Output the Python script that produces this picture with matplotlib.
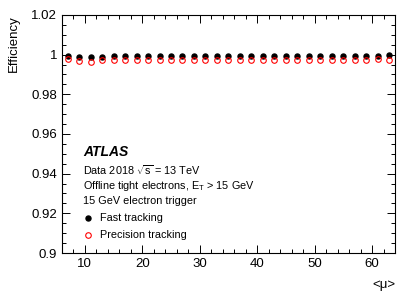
import matplotlib
matplotlib.use("Agg")
import matplotlib.pyplot as plt
from matplotlib.ticker import MultipleLocator
import numpy as np

plt.rcParams['font.family'] = ['Liberation Sans', 'DejaVu Sans']
plt.rcParams['mathtext.fontset'] = 'custom'
plt.rcParams['mathtext.rm'] = 'Liberation Sans'
plt.rcParams['mathtext.it'] = 'Liberation Sans:italic'

mu = [7, 9, 11, 13, 15, 17, 19, 21, 23, 25, 27, 29, 31, 33, 35, 37, 39, 41, 43, 45,
      47, 49, 51, 53, 55, 57, 59, 61, 63]
fast = [0.9995, 0.9990, 0.9989, 0.9990, 0.9991, 0.9991, 0.9991, 0.9991, 0.9991, 0.9991,
        0.9991, 0.9991, 0.9991, 0.9991, 0.9991, 0.9991, 0.9991, 0.9991, 0.9991, 0.9991,
        0.9991, 0.9991, 0.9991, 0.9991, 0.9991, 0.9991, 0.9991, 0.9991, 0.9996]
precision = [0.9980, 0.9966, 0.9965, 0.9975, 0.9972, 0.9972, 0.9972, 0.9972, 0.9971, 0.9972,
             0.9971, 0.9971, 0.9971, 0.9971, 0.9971, 0.9971, 0.9971, 0.9971, 0.9971, 0.9971,
             0.9971, 0.9971, 0.9971, 0.9971, 0.9971, 0.9971, 0.9971, 0.9980, 0.9975]

fig = plt.figure(figsize=(4.15, 2.98), dpi=100)
ax = fig.add_axes([0.149, 0.151, 0.803, 0.799])

ax.plot(mu, fast, 'o', color='black', markersize=3.6, linestyle='none')
ax.plot(mu, precision, 'o', markerfacecolor='none', markeredgecolor='red',
        markeredgewidth=0.8, markersize=4.0, linestyle='none')

ax.set_xlim(6, 64)
ax.set_ylim(0.9, 1.02)
ax.xaxis.set_major_locator(MultipleLocator(10))
ax.xaxis.set_minor_locator(MultipleLocator(2))
ax.yaxis.set_major_locator(MultipleLocator(0.02))
ax.yaxis.set_minor_locator(MultipleLocator(0.005))
ax.set_yticks([0.9, 0.92, 0.94, 0.96, 0.98, 1.0, 1.02])
ax.set_yticklabels(['0.9', '0.92', '0.94', '0.96', '0.98', '1', '1.02'])
ax.tick_params(which='both', direction='in', top=True, right=True, labelsize=9.5)
ax.tick_params(which='major', length=6, width=0.7)
ax.tick_params(which='minor', length=3, width=0.7)
for s in ax.spines.values():
    s.set_linewidth(0.8)

ax.set_ylabel('Efficiency', fontsize=9.5, loc='top', labelpad=8)
fig.text(0.952, 0.045, '<μ>', ha='right', va='center', fontsize=9.5)

tx = 0.20
fig.text(tx, 0.49, 'ATLAS', fontsize=10, fontweight='bold', style='italic', va='center')
fig.text(tx, 0.43, r'Data 2018 $\sqrt{\rm s}$ = 13 TeV', fontsize=7.8, va='center')
fig.text(tx, 0.376, r'Offline tight electrons, E$_{\rm T}$ > 15 GeV', fontsize=7.8, va='center')
fig.text(tx, 0.325, '15 GeV electron trigger', fontsize=7.8, va='center')
fig.lines.append(plt.Line2D([0.212], [0.268], transform=fig.transFigure, marker='o',
                            color='black', markersize=3.6, linestyle='none'))
fig.text(0.241, 0.268, 'Fast tracking', fontsize=7.8, va='center')
fig.lines.append(plt.Line2D([0.212], [0.211], transform=fig.transFigure, marker='o',
                            markerfacecolor='none', markeredgecolor='red', markeredgewidth=0.8,
                            markersize=4.0, linestyle='none'))
fig.text(0.241, 0.211, 'Precision tracking', fontsize=7.8, va='center')

fig.savefig('out.png', dpi=100)
